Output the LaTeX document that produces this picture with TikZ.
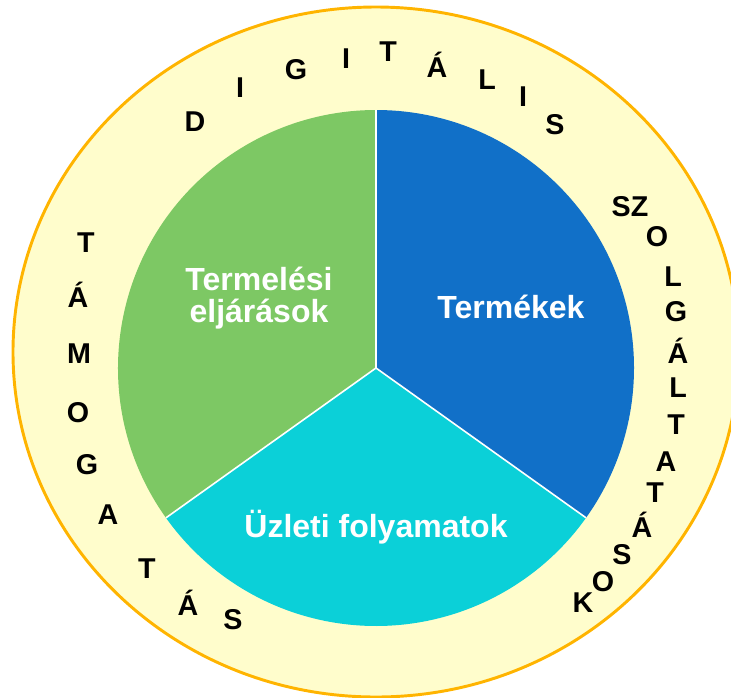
\documentclass[tikz,border=0pt]{standalone}
\usepackage{fontspec}
\setmainfont{Liberation Sans}
\usepackage{tikz}
\usetikzlibrary{positioning}

\definecolor{ringfill}{RGB}{255,253,204}
\definecolor{ringline}{RGB}{255,180,0}
\definecolor{greenpart}{RGB}{125,200,100}
\definecolor{bluepart}{RGB}{17,112,200}
\definecolor{cyanpart}{RGB}{11,208,216}

\tikzset{
  ringletter/.style={font=\bfseries\fontsize{21.5}{21.5}\selectfont, text=black, inner sep=0pt},
  sectortext/.style={font=\bfseries\fontsize{24}{24.5}\selectfont, text=white, align=center, inner sep=0pt},
}

\begin{document}
\begin{tikzpicture}[x=0.75pt,y=0.75pt,yscale=-1,xscale=1]
\useasboundingbox (0,0) rectangle (731,697);

%Shape: Ellipse (outer ring)
\draw [ringline, fill=ringfill, line width=2.2] (376,352) ellipse [x radius=363, y radius=345];

%Shape: Pie
\coordinate (c) at (376,368);
\path (c) ++(-90:258) coordinate (top);
\path (c) ++(35.5:258) coordinate (right);
\path (c) ++(144.5:258) coordinate (left);
\fill [bluepart] (c) -- (top) arc [start angle=-90, end angle=35.5, radius=258] -- cycle;
\fill [cyanpart] (c) -- (right) arc [start angle=35.5, end angle=144.5, radius=258] -- cycle;
\fill [greenpart] (c) -- (left) arc [start angle=144.5, end angle=270, radius=258] -- cycle;
\draw [white, line width=1.2] (c) -- (top) (c) -- (right) (c) -- (left);

% Text Node
\node [sectortext] (eljaras) at (259,298) {Termelési\\eljárások};
% Text Node
\node [sectortext] (termek) at (511,307) {Termékek};
% Text Node
\node [sectortext] (uzlet) at (376,527) {Üzleti folyamatok};

% Ring letters
\foreach \ch/\px/\py [count=\i] in {D/195/122, I/240/88, G/296/70, I/346/59, T/388/52, Á/437/65, L/487/80, I/523/97, S/555/125}
  \node [ringletter] (dig\i) at (\px,\py) {\ch};
\foreach \ch/\px/\py [count=\i] in {SZ/630/207, O/657/237, L/673/277, G/676/312, Á/678/351, L/678/388, T/676/425, A/666/462, T/655/493, Á/642/525, S/622/555, O/603/582, K/583/603}
  \node [ringletter] (szo\i) at (\px,\py) {\ch};
\foreach \ch/\px/\py [count=\i] in {T/86/243, Á/78/295, M/79/354, O/78/413, G/87/465, A/108/515, T/147/569, Á/188/603, S/233/620}
  \node [ringletter] (tam\i) at (\px,\py) {\ch};

\end{tikzpicture}
\end{document}
